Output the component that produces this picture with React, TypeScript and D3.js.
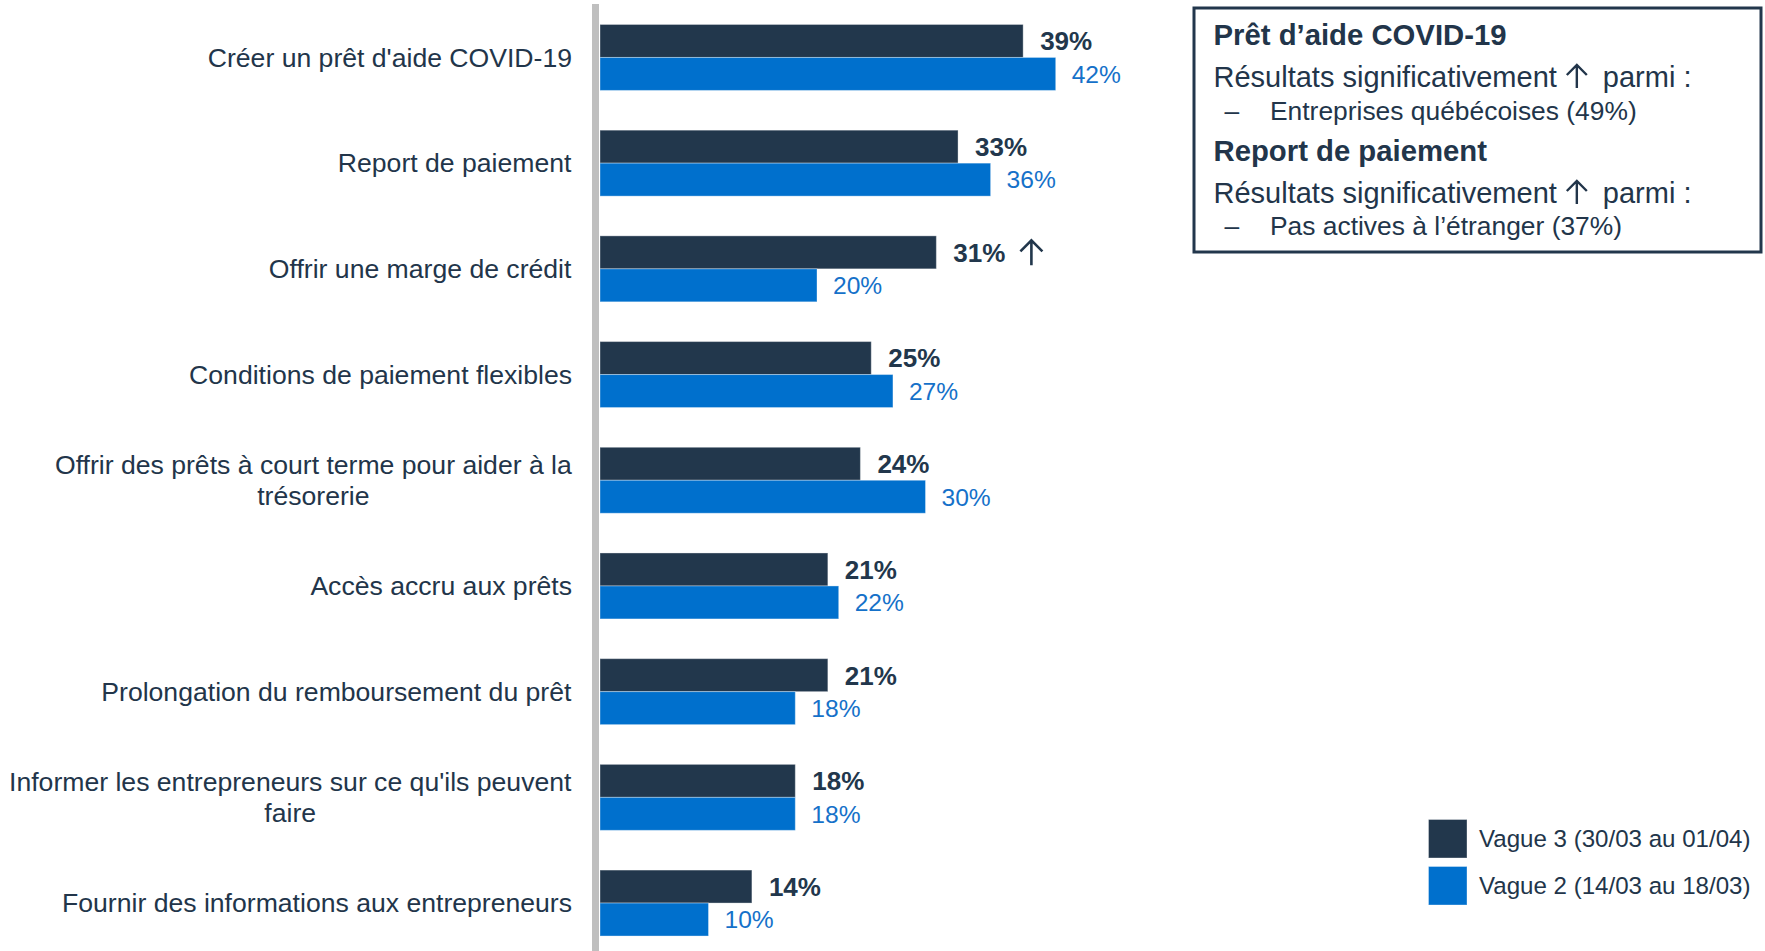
import React, { useEffect, useRef } from "react";
import * as d3 from "d3";

const categories = [
  "Créer un prêt d'aide COVID-19",
  "Report de paiement",
  "Offrir une marge de crédit",
  "Conditions de paiement flexibles",
  "Offrir des prêts à court terme pour aider à la\ntrésorerie",
  "Accès accru aux prêts",
  "Prolongation du remboursement du prêt",
  "Informer les entrepreneurs sur ce qu'ils peuvent\nfaire",
  "Fournir des informations aux entrepreneurs",
];
const vague3 = [39, 33, 31, 25, 24, 21, 21, 18, 14];
const vague2 = [42, 36, 20, 27, 30, 22, 18, 18, 10];
const significant = [false, false, true, false, false, false, false, false, false];
const seriesNames = ["Vague 3 (30/03 au 01/04)", "Vague 2 (14/03 au 18/03)"];
const noteTitles = ["Prêt d’aide COVID-19", "Report de paiement"];
const noteLeadBefore = "Résultats significativement";
const noteLeadAfter = "parmi :";
const noteItems = ["Entreprises québécoises (49%)", "Pas actives à l’étranger (37%)"];

const W = 1765;
const H = 951;
const FONT = "'Liberation Sans', Arial, Helvetica, sans-serif";
const DARK = "#22374C";
const BLUE = "#0070CD";
const TEXT = "#22354A";
const BLUE_TEXT = "#1571C9";

function upArrow(cx: number, cy: number, h: number, hw: number) {
  const top = cy - h / 2;
  const bot = cy + h / 2;
  return `M${cx},${bot} L${cx},${top + 1} M${cx - hw},${top + hw} L${cx},${top} L${cx + hw},${top + hw}`;
}

export default function App() {
  const ref = useRef<SVGSVGElement | null>(null);

  useEffect(() => {
    const svg = d3.select(ref.current);
    svg.selectAll("*").remove();

    const y = d3
      .scaleBand<number>()
      .domain(categories.map((_, i) => i))
      .range([4.6, 955.9])
      .paddingInner(0.376)
      .paddingOuter(0.188);
    const x = d3.scaleLinear().domain([0, 100]).range([600, 1685]);
    const bw = y.bandwidth() / 2;

    // axis line
    svg
      .append("line")
      .attr("x1", 595.5)
      .attr("x2", 595.5)
      .attr("y1", 4)
      .attr("y2", H)
      .attr("stroke", "#BFBFBF")
      .attr("stroke-width", 7);

    const g = svg.append("g");
    categories.forEach((cat, i) => {
      const top = y(i)!;
      g.append("rect")
        .attr("x", x(0))
        .attr("y", top)
        .attr("width", x(vague3[i]) - x(0))
        .attr("height", bw)
        .attr("fill", DARK)
        .attr("stroke", "rgba(255,255,255,0.35)")
        .attr("stroke-width", 1);
      g.append("rect")
        .attr("x", x(0))
        .attr("y", top + bw)
        .attr("width", x(vague2[i]) - x(0))
        .attr("height", bw)
        .attr("fill", BLUE)
        .attr("stroke", "rgba(255,255,255,0.35)")
        .attr("stroke-width", 1);

      const t3 = g
        .append("text")
        .attr("x", x(vague3[i]) + 17)
        .attr("y", top + bw / 2)
        .attr("dy", "0.36em")
        .attr("font-family", FONT)
        .attr("font-size", 26)
        .attr("font-weight", "bold")
        .attr("fill", DARK)
        .text(`${vague3[i]}%`);
      g.append("text")
        .attr("x", x(vague2[i]) + 16)
        .attr("y", top + bw * 1.5)
        .attr("dy", "0.36em")
        .attr("font-family", FONT)
        .attr("font-size", 24.6)
        .attr("fill", BLUE_TEXT)
        .text(`${vague2[i]}%`);

      if (significant[i]) {
        const tw = (t3.node() as SVGTextElement).getComputedTextLength();
        const ax = x(vague3[i]) + 17 + tw + 26;
        const cy = top + bw / 2;
        g.append("path")
          .attr("d", upArrow(ax, cy + 0.5, 25, 11))
          .attr("fill", "none")
          .attr("stroke", DARK)
          .attr("stroke-width", 2.6);
      }

      const lines = cat.split("\n");
      const cy = top + bw;
      const lg = g.append("g");
      const lh = 30.5;
      lines.forEach((ln, k) => {
        lg.append("text")
          .attr("x", 0)
          .attr("y", cy + (k - (lines.length - 1) / 2) * lh)
          .attr("dy", "0.35em")
          .attr("text-anchor", "middle")
          .attr("font-family", FONT)
          .attr("font-size", 26.6)
          .attr("fill", TEXT)
          .text(ln);
      });
      const bb = (lg.node() as SVGGElement).getBBox();
      lg.attr("transform", `translate(${572 - (bb.x + bb.width)},0)`);
    });

    // note box
    const box = svg.append("g");
    box
      .append("rect")
      .attr("x", 1194)
      .attr("y", 8)
      .attr("width", 567)
      .attr("height", 244)
      .attr("fill", "white")
      .attr("stroke", DARK)
      .attr("stroke-width", 3);
    const bx = 1213.5;
    const rows = [
      { kind: "title", t: noteTitles[0], yb: 45 },
      { kind: "lead", yb: 86.5 },
      { kind: "item", t: noteItems[0], yb: 119.5 },
      { kind: "title", t: noteTitles[1], yb: 161 },
      { kind: "lead", yb: 202.5 },
      { kind: "item", t: noteItems[1], yb: 234.5 },
    ];
    rows.forEach((r: any) => {
      if (r.kind === "title") {
        box
          .append("text")
          .attr("x", bx)
          .attr("y", r.yb)
          .attr("font-family", FONT)
          .attr("font-size", 29.3)
          .attr("font-weight", "bold")
          .attr("fill", TEXT)
          .text(r.t);
      } else if (r.kind === "lead") {
        const t1 = box
          .append("text")
          .attr("x", bx)
          .attr("y", r.yb)
          .attr("font-family", FONT)
          .attr("font-size", 29)
          .attr("fill", TEXT)
          .text(noteLeadBefore);
        const w1 = (t1.node() as SVGTextElement).getComputedTextLength();
        const ax = bx + w1 + 20;
        box
          .append("path")
          .attr("d", upArrow(ax, r.yb - 10, 23, 10))
          .attr("fill", "none")
          .attr("stroke", TEXT)
          .attr("stroke-width", 2.4);
        box
          .append("text")
          .attr("x", ax + 26)
          .attr("y", r.yb)
          .attr("font-family", FONT)
          .attr("font-size", 29)
          .attr("fill", TEXT)
          .text(noteLeadAfter);
      } else {
        box
          .append("text")
          .attr("x", bx + 11)
          .attr("y", r.yb)
          .attr("font-family", FONT)
          .attr("font-size", 26.4)
          .attr("fill", TEXT)
          .text("–");
        box
          .append("text")
          .attr("x", 1270)
          .attr("y", r.yb)
          .attr("font-family", FONT)
          .attr("font-size", 26.4)
          .attr("fill", TEXT)
          .text(r.t);
      }
    });

    // legend
    const leg = svg.append("g");
    const colors = [DARK, BLUE];
    seriesNames.forEach((name, i) => {
      const ly = 819.5 + i * 47;
      leg
        .append("rect")
        .attr("x", 1428.5)
        .attr("y", ly)
        .attr("width", 38.5)
        .attr("height", 38.5)
        .attr("fill", colors[i])
        .attr("stroke", "rgba(255,255,255,0.35)")
        .attr("stroke-width", 1);
      leg
        .append("text")
        .attr("x", 1479)
        .attr("y", ly + 19.5)
        .attr("dy", "0.35em")
        .attr("font-family", FONT)
        .attr("font-size", 24.1)
        .attr("fill", TEXT)
        .text(name);
    });
  }, []);

  return (
    <svg
      ref={ref}
      width={W}
      height={H}
      viewBox={`0 0 ${W} ${H}`}
      style={{ position: "absolute", left: 0, top: 0, background: "white" }}
    />
  );
}
